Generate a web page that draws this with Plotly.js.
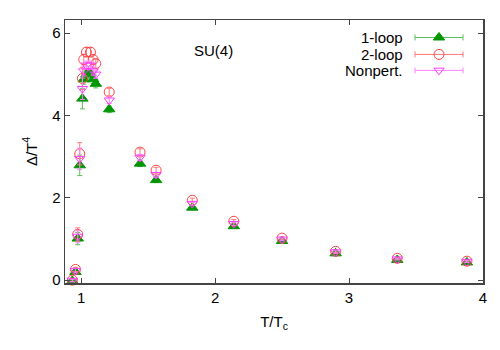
<!DOCTYPE html>
<html>
<head>
<meta charset="utf-8">
<script src="https://cdn.plot.ly/plotly-3.0.1.min.js"></script>
<style>
  html, body { margin: 0; padding: 0; background: #fff; }
  #plot { width: 500px; height: 350px; }
</style>
</head>
<body>
<div id="plot"></div>
<script>
// T/Tc values
const tOverTc = [0.935, 0.958, 0.975, 0.99, 1.01, 1.02, 1.04, 1.07, 1.09, 1.11, 1.21,
                 1.44, 1.56, 1.83, 2.14, 2.50, 2.90, 3.36, 3.88];

// Delta/T^4 for the three renormalisations
const oneLoop = [-0.02, 0.20, 1.01, 2.79, 4.41, 4.88, 5.00, 5.02, 4.88, 4.77, 4.15,
                 2.83, 2.43, 1.76, 1.31, 0.95, 0.65, 0.49, 0.43];
const oneLoopErr = [0.03, 0.04, 0.15, 0.25, 0.25, 0.12, 0.10, 0.10, 0.10, 0.10, 0.08,
                    0.07, 0.06, 0.04, 0.04, 0.03, 0.03, 0.02, 0.02];

const twoLoop = [0.00, 0.26, 1.11, 3.07, 4.90, 5.36, 5.54, 5.54, 5.36, 5.26, 4.57,
                 3.11, 2.67, 1.94, 1.43, 1.02, 0.70, 0.53, 0.46];
const twoLoopErr = [0.03, 0.05, 0.16, 0.27, 0.27, 0.13, 0.11, 0.11, 0.11, 0.11, 0.09,
                    0.08, 0.07, 0.05, 0.04, 0.03, 0.03, 0.02, 0.02];

const nonPert = [-0.01, 0.23, 1.06, 2.95, 4.65, 5.08, 5.22, 5.22, 5.08, 5.00, 4.37,
                 2.98, 2.56, 1.86, 1.37, 0.99, 0.68, 0.51, 0.45];
const nonPertErr = [0.03, 0.05, 0.15, 0.26, 0.26, 0.12, 0.10, 0.10, 0.10, 0.10, 0.08,
                    0.07, 0.06, 0.04, 0.04, 0.03, 0.03, 0.02, 0.02];

const names = ['1-loop', '2-loop', 'Nonpert.'];
const FONT = 'Liberation Sans, Arial, Helvetica, sans-serif';

const styles = [
  {symbol: 'triangle-up', color: 'rgb(0,150,0)', bar: 'rgb(90,190,90)', size: 10},
  {symbol: 'circle-open', color: 'rgb(255,70,70)', bar: 'rgb(255,120,120)', size: 10},
  {symbol: 'triangle-down-open', color: 'rgb(255,60,255)', bar: 'rgb(255,130,255)', size: 9}
];
const series = [oneLoop, twoLoop, nonPert];
const errors = [oneLoopErr, twoLoopErr, nonPertErr];

const data = [];
series.forEach((ys, i) => {
  data.push({
    x: tOverTc,
    y: ys,
    type: 'scatter',
    mode: 'markers',
    name: names[i],
    showlegend: false,
    cliponaxis: false,
    marker: {symbol: styles[i].symbol, size: styles[i].size, color: styles[i].color,
             line: {color: styles[i].color, width: 1}},
    error_y: {type: 'data', array: errors[i], color: styles[i].bar, thickness: 1, width: 2.5}
  });
});

// hand-made legend in the gnuplot style (text left, sample right)
const legendRowsY = [37, 54, 70];
const annotations = [];
legendRowsY.forEach((ly, i) => {
  data.push({
    x: [439], y: [ly],
    xaxis: 'x2', yaxis: 'y2',
    type: 'scatter', mode: 'markers', showlegend: false, cliponaxis: false,
    marker: {symbol: styles[i].symbol, size: styles[i].size, color: styles[i].color,
             line: {color: styles[i].color, width: 1}},
    error_x: {type: 'data', array: [24], color: styles[i].bar, thickness: 1, width: 3}
  });
  annotations.push({
    xref: 'x2', yref: 'y2', x: 405, y: ly, text: names[i],
    xanchor: 'right', yanchor: 'middle', showarrow: false,
    font: {family: FONT, size: 15, color: '#000'}
  });
});
annotations.push({
  xref: 'x2', yref: 'y2', x: 213, y: 50, text: 'SU(4)',
  showarrow: false, xanchor: 'center', yanchor: 'middle',
  font: {family: FONT, size: 15, color: '#000'}
});

const axisCommon = {
  showline: true, linecolor: '#444', linewidth: 1.5, mirror: 'ticks',
  ticks: 'inside', ticklen: 5, tickcolor: '#444', showgrid: false, zeroline: false,
  tickfont: {family: FONT, size: 15, color: '#000'}
};

const layout = {
  width: 500, height: 350,
  margin: {l: 65, r: 17, t: 19.5, b: 67},
  paper_bgcolor: '#fff', plot_bgcolor: '#fff',
  font: {family: FONT, color: '#000'},
  xaxis: Object.assign({}, axisCommon, {
    range: [0.88, 4], tickvals: [1, 2, 3, 4],
    title: {text: 'T/T<sub>c</sub>', font: {family: FONT, size: 15}, standoff: 12}
  }),
  yaxis: Object.assign({}, axisCommon, {
    range: [-0.07, 6.32], tickvals: [0, 2, 4, 6],
    title: {text: 'Δ/T<sup>4</sup>', font: {family: FONT, size: 15}, standoff: 11}
  }),
  xaxis2: {overlaying: 'x', anchor: 'y2', range: [65, 483], visible: false, fixedrange: true},
  yaxis2: {overlaying: 'y', anchor: 'x2', range: [283, 19.5], visible: false, fixedrange: true},
  annotations: annotations,
  showlegend: false
};

Plotly.newPlot('plot', data, layout, {displayModeBar: false, staticPlot: true});
</script>
</body>
</html>
